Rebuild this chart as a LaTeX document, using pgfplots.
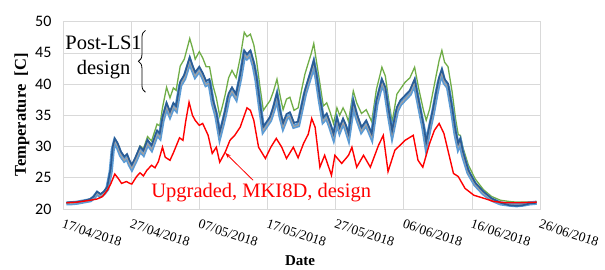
\documentclass[border=0pt]{standalone}
\usepackage{fontspec}
\setmainfont{Liberation Serif}
\newfontfamily\calib{Carlito}
\usepackage{pgfplots}
\usepackage{pgfplotstable}
\pgfplotsset{compat=1.18}
\usetikzlibrary{decorations.pathreplacing,arrows.meta}
\definecolor{dblue}{HTML}{2A5C96}
\definecolor{lblue}{HTML}{5B9BD5}
\definecolor{xgreen}{HTML}{70AD47}
\definecolor{xorange}{HTML}{ED7D31}
\definecolor{xgray}{HTML}{A5A5A5}
\definecolor{gridc}{HTML}{D9D9D9}

\pgfplotstableread{
d blue light green
0.5 21.0 20.9 21.0
1 21.1 20.9 21.0
2 21.1 21.0 21.1
3 21.3 21.2 21.3
4 21.6 21.4 21.6
4.5 22.0 21.8 22.0
5 22.8 22.5 22.6
5.5 22.4 22.1 22.3
6 22.8 22.5 22.7
6.5 23.6 23.2 23.4
7 26.5 26.0 26.2
7.3 30.0 29.5 29.6
7.6 31.3 30.8 30.9
8 30.6 30.0 30.0
8.5 29.2 28.6 28.6
9 28.4 27.8 27.9
9.4 28.8 28.2 28.3
9.8 27.7 27.1 27.3
10.1 27.1 26.5 26.8
10.6 28.2 27.6 28.0
11.3 30.0 29.4 30.1
11.8 29.4 28.8 29.6
12.4 31.1 30.5 31.6
13 30.2 29.6 30.9
13.8 32.6 32.0 33.6
14.2 32.1 31.5 33.3
14.6 34.7 34.1 36.2
15.2 37.0 36.4 39.5
15.7 35.6 35.0 37.8
16.2 37.0 36.4 39.4
16.6 36.5 35.9 39.0
17.2 40.4 39.8 42.9
17.8 41.5 40.9 44.0
18.6 44.3 43.7 47.3
19.0 43.0 42.4 45.8
19.4 41.9 41.3 44.0
20.0 42.8 42.2 45.2
20.5 41.8 41.2 44.2
21.0 40.5 39.9 42.8
21.5 40.8 40.2 42.8
22.0 37.5 36.9 39.8
22.5 35.5 34.9 37.8
23.0 32.3 31.7 34.9
23.4 34.0 33.4 36.5
23.8 35.8 35.2 38.3
24.3 38.5 37.9 41.0
24.8 39.5 38.9 42.2
25.4 38.4 37.8 41.0
26.0 41.5 40.9 44.2
26.6 45.4 44.8 48.3
27.0 44.8 44.2 47.6
27.5 45.4 44.8 48.0
28.0 43.5 42.9 46.3
28.4 41.2 40.6 43.8
28.9 37.0 36.4 39.6
29.4 33.2 32.6 35.8
29.9 34.0 33.4 36.6
30.4 34.8 34.2 37.4
30.9 36.5 35.9 38.9
31.4 38.6 38.0 40.8
31.9 35.5 34.9 37.9
32.3 33.8 33.2 35.9
32.8 35.2 34.6 37.6
33.3 35.5 34.9 37.9
33.9 33.8 33.2 35.8
34.5 34.0 33.4 36.2
35.0 36.5 35.9 39.0
35.5 39.0 38.4 41.6
36.0 40.8 40.2 43.4
36.4 42.2 41.6 44.8
36.8 43.8 43.2 46.5
37.2 41.6 41.0 43.6
37.7 37.9 37.3 40.1
38.2 34.7 34.1 36.5
38.7 35.3 34.7 37.0
39.2 33.8 33.2 35.5
39.7 32.1 31.5 33.7
40.2 34.7 34.1 36.2
40.6 33.1 32.5 35.0
41.1 34.5 33.9 36.2
41.5 33.5 32.9 35.3
41.9 32.1 31.5 34.0
42.6 37.4 36.8 38.9
43.1 35.3 34.7 37.0
43.8 33.1 32.5 35.3
44.5 34.2 33.6 35.9
45.3 32.1 31.5 34.0
46.0 37.4 36.8 39.2
46.8 40.8 40.2 42.7
47.3 39.5 38.9 41.3
47.8 35.8 35.2 37.4
48.3 32.6 32.0 33.9
49.0 36.3 35.7 38.4
49.5 37.4 36.8 39.2
50.2 38.2 37.6 40.3
50.9 39.0 38.4 41.0
51.6 40.8 40.2 42.7
52.2 37.4 36.8 39.3
52.9 33.5 32.9 35.8
53.3 30.7 30.1 34.2
53.8 33.5 32.9 36.0
54.3 36.0 35.4 38.8
54.8 39.0 38.4 41.6
55.2 41.1 40.5 43.8
55.6 42.4 41.8 45.4
56.0 40.8 40.2 43.5
56.5 40.1 39.5 42.8
57.1 36.3 35.7 38.8
57.6 32.6 32.0 34.5
58.0 30.5 29.9 31.9
58.3 31.3 30.7 31.8
58.7 29.2 28.6 29.8
59.5 26.2 25.8 27.0
60.5 24.2 23.9 24.8
61.7 22.8 22.5 23.1
62.9 21.7 21.5 22.0
64.2 21.0 20.9 21.4
65.5 20.6 20.7 21.2
66.6 20.5 20.6 21.1
67.5 20.6 20.7 21.1
68.5 20.9 20.9 21.1
69.5 21.0 21.0 21.2
}\postls

\pgfplotstableread{
d red
0.5 21.0
2 21.1
4 21.4
5 21.6
5.8 22.0
6.5 23.0
7.0 24.0
7.6 25.6
8.1 24.9
8.6 24.1
9.3 24.4
9.8 24.1
10.1 24.0
10.8 25.2
11.3 25.8
11.8 25.3
12.3 26.2
13.0 27.0
13.5 26.6
14.0 27.6
14.6 29.9
15.0 28.3
15.7 27.8
16.2 29.0
17.1 31.4
17.6 31.0
18.0 34.0
18.5 37.1
19.0 35.0
19.4 34.2
20.0 33.4
20.5 33.7
21.3 31.8
21.9 28.9
22.5 29.9
23.0 27.5
23.8 29.1
24.5 31.0
25.2 31.8
26.0 33.1
27.0 36.2
27.5 35.8
28.0 34.2
28.7 29.9
29.7 28.1
30.5 29.9
31.3 31.3
32.1 29.9
32.8 28.1
33.8 29.9
34.5 28.2
35.3 30.5
36.0 32.0
36.5 34.5
37.0 33.1
37.7 26.7
38.4 28.6
39.4 25.4
39.9 28.6
40.9 27.3
41.9 28.6
42.4 29.9
43.1 26.7
44.1 28.6
45.1 26.7
46.3 30.2
47.0 31.8
47.7 26.0
48.7 29.4
50.2 31.0
51.4 31.8
52.1 27.8
52.8 26.7
53.8 30.5
54.5 32.6
55.2 33.7
55.9 32.1
56.6 28.9
57.3 25.7
58.0 25.2
59.0 23.3
60.3 22.2
61.8 21.7
63.2 21.2
65.0 21.0
67.0 21.0
69.5 21.1
}\upgraded

\begin{document}
\begin{tikzpicture}
\begin{axis}[
  scale only axis,
  width=477pt, height=187.3pt,
  xmin=0, xmax=70, ymin=20, ymax=50,
  xtick={0,10,...,70},
  xticklabels={17/04/2018,27/04/2018,07/05/2018,17/05/2018,27/05/2018,06/06/2018,16/06/2018,26/06/2018},
  ytick={20,25,...,50},
  major tick length=0pt,
  grid=major,
  major grid style={draw=gridc, line width=0.7pt},
  axis line style={draw=gridc, line width=0.7pt},
  xticklabel style={font=\fontsize{13.5}{15}\selectfont, inner sep=0pt, xshift=1pt, yshift=-10pt, rotate=-18, anchor=north west},
  yticklabel style={font=\calib\fontsize{16}{18}\selectfont, xshift=-8pt},
  yticklabel={\pgfmathprintnumber[assume math mode=true]{\tick}},
  xlabel={\textbf{Date}},
  xlabel style={font=\fontsize{15}{18}\selectfont, at={(axis description cs:0.497,-0.278)}, anchor=center},
  ylabel={\textbf{Temperature\ \ [C]}},
  ylabel style={font=\fontsize{16.5}{19}\selectfont, at={(axis description cs:-0.086,0.503)}, anchor=center, rotate=0},
  clip=false,
]
\addplot[xgreen, line width=1.3pt] table[x=d, y=green] {\postls};
\addplot[lblue, line width=4.2pt] table[x=d, y=light] {\postls};
\addplot[xorange, line width=0.6pt, dash pattern=on 2pt off 3pt] table[x=d, y=light] {\postls};
\addplot[xgray, line width=0.9pt] table[x=d, y=light] {\postls};
\addplot[dblue, line width=1.7pt] table[x=d, y=blue] {\postls};
\addplot[red, line width=1.4pt] table[x=d, y=red] {\upgraded};

\node[align=center, font=\fontsize{20.5}{25}\selectfont] at (axis cs:5.95,44.2) {Post-LS1\\design};
\draw[line width=0.8pt, decorate, decoration={brace, amplitude=7pt}] (axis cs:12.1,38.7) -- (axis cs:12.1,48.6);
\node[text=red, font=\fontsize{20.5}{24}\selectfont] at (axis cs:29.1,22.6) {Upgraded,\ MKI8D,\ design};
\draw[red, line width=0.8pt, -{Stealth[length=6pt,width=4pt]}] (axis cs:27.9,24.6) -- (axis cs:23.8,29.0);
\end{axis}
\path[use as bounding box] (-63pt,-58pt) rectangle (542pt,209pt);
\end{tikzpicture}
\end{document}
